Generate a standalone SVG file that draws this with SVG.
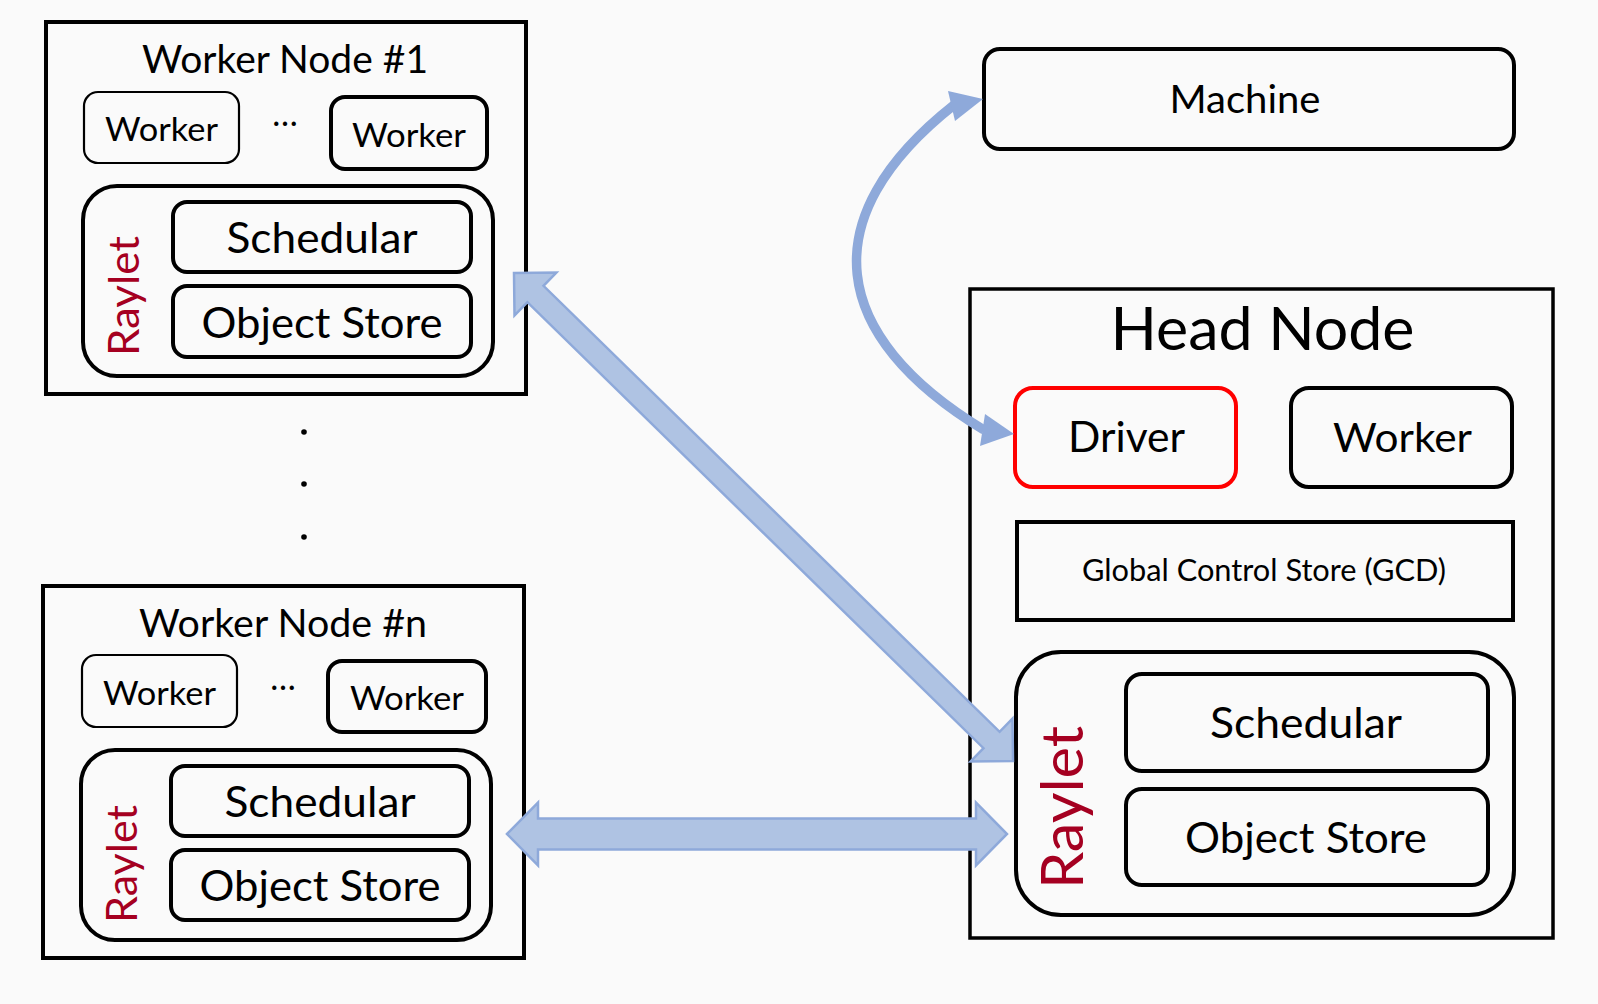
<svg xmlns="http://www.w3.org/2000/svg" width="1598" height="1004" viewBox="0 0 1598 1004">
<style>
  .bg{fill:#FAFAFA}
  .box{fill:none;stroke:#000;stroke-width:4}
  .thin{fill:none;stroke:#000;stroke-width:2.2}
  .red{fill:none;stroke:#FF0000;stroke-width:4}
  text{font-family:Lato,"Open Sans","Liberation Sans",sans-serif;font-weight:400;fill:#000;text-anchor:middle}
  .ray{fill:#A50021}
  .blk{fill:#AFC3E3;stroke:#8EA9DA;stroke-width:2.5;stroke-linejoin:miter}
  .cur{fill:none;stroke:#8EA9DA;stroke-width:9.5}
  .head{fill:#8EA9DA}
</style>
<rect class="bg" x="0" y="0" width="1598" height="1004"/>

<g id="worker-node-1">
  <rect class="box" x="46" y="22" width="480" height="372"/>
  <text x="285" y="73" font-size="38" textLength="286" lengthAdjust="spacingAndGlyphs">Worker Node #1</text>
  <g id="wn1-worker-a">
    <rect class="thin" x="84" y="92" width="155" height="71" rx="14"/>
    <text x="161.5" y="141" font-size="33" textLength="113" lengthAdjust="spacingAndGlyphs">Worker</text>
  </g>
  <text x="285" y="126" font-size="34">…</text>
  <g id="wn1-worker-b">
    <rect class="box" x="331" y="97" width="156" height="72" rx="14"/>
    <text x="409" y="147" font-size="33" textLength="114" lengthAdjust="spacingAndGlyphs">Worker</text>
  </g>
  <g id="wn1-raylet">
    <rect class="box" x="83" y="186" width="410" height="190" rx="34"/>
    <text class="ray" transform="translate(139,296) rotate(-90)" font-size="42" textLength="120" lengthAdjust="spacingAndGlyphs">Raylet</text>
    <g id="wn1-scheduler">
      <rect class="box" x="173" y="202" width="298" height="70" rx="14"/>
      <text x="322" y="253" font-size="43" textLength="191" lengthAdjust="spacingAndGlyphs">Schedular</text>
    </g>
    <g id="wn1-object-store">
      <rect class="box" x="173" y="286" width="298" height="71" rx="14"/>
      <text x="322" y="338" font-size="43" textLength="241" lengthAdjust="spacingAndGlyphs">Object Store</text>
    </g>
  </g>
</g>

<g id="ellipsis-dots">
  <circle cx="304" cy="432" r="2.8" fill="#000"/>
  <circle cx="304" cy="484" r="2.8" fill="#000"/>
  <circle cx="304" cy="537" r="2.8" fill="#000"/>
</g>

<g id="worker-node-n">
  <rect class="box" x="43" y="586" width="481" height="372"/>
  <text x="283" y="637" font-size="38" textLength="288" lengthAdjust="spacingAndGlyphs">Worker Node #n</text>
  <g id="wnn-worker-a">
    <rect class="thin" x="82" y="655" width="155" height="72" rx="14"/>
    <text x="159.5" y="705" font-size="33" textLength="113" lengthAdjust="spacingAndGlyphs">Worker</text>
  </g>
  <text x="283" y="690" font-size="34">…</text>
  <g id="wnn-worker-b">
    <rect class="box" x="328" y="661" width="158" height="71" rx="14"/>
    <text x="407" y="710" font-size="33" textLength="114" lengthAdjust="spacingAndGlyphs">Worker</text>
  </g>
  <g id="wnn-raylet">
    <rect class="box" x="81" y="750" width="410" height="190" rx="34"/>
    <text class="ray" transform="translate(137,864) rotate(-90)" font-size="42" textLength="118" lengthAdjust="spacingAndGlyphs">Raylet</text>
    <g id="wnn-scheduler">
      <rect class="box" x="171" y="766" width="298" height="70" rx="14"/>
      <text x="320" y="817" font-size="43" textLength="191" lengthAdjust="spacingAndGlyphs">Schedular</text>
    </g>
    <g id="wnn-object-store">
      <rect class="box" x="171" y="850" width="298" height="70" rx="14"/>
      <text x="320" y="901" font-size="43" textLength="241" lengthAdjust="spacingAndGlyphs">Object Store</text>
    </g>
  </g>
</g>

<g id="machine">
  <rect class="box" x="984" y="49" width="530" height="100" rx="16"/>
  <text x="1245" y="113" font-size="38" textLength="151" lengthAdjust="spacingAndGlyphs">Machine</text>
</g>

<g id="head-node">
  <rect class="box" x="970" y="289" width="583" height="649" style="stroke-width:3.5"/>
  <text x="1262.5" y="350" font-size="60" textLength="304" lengthAdjust="spacingAndGlyphs">Head Node</text>
  <g id="driver">
    <rect class="red" x="1015" y="388" width="221" height="99" rx="18"/>
    <text x="1126.5" y="452" font-size="42" textLength="117" lengthAdjust="spacingAndGlyphs">Driver</text>
  </g>
  <g id="head-worker">
    <rect class="box" x="1291" y="388" width="221" height="99" rx="18"/>
    <text x="1402.5" y="452" font-size="41" textLength="139" lengthAdjust="spacingAndGlyphs">Worker</text>
  </g>
  <g id="gcs">
    <rect class="box" x="1017" y="522" width="496" height="98"/>
    <text x="1264" y="581" font-size="30" textLength="364" lengthAdjust="spacingAndGlyphs">Global Control Store (GCD)</text>
  </g>
  <g id="head-raylet">
    <rect class="box" x="1016" y="652" width="498" height="263" rx="45"/>
    <text class="ray" transform="translate(1083,807.5) rotate(-90)" font-size="58" textLength="163" lengthAdjust="spacingAndGlyphs">Raylet</text>
    <g id="head-scheduler">
      <rect class="box" x="1126" y="674" width="362" height="97" rx="16"/>
      <text x="1306" y="738" font-size="43" textLength="192" lengthAdjust="spacingAndGlyphs">Schedular</text>
    </g>
    <g id="head-object-store">
      <rect class="box" x="1126" y="789" width="362" height="96" rx="16"/>
      <text x="1306" y="853" font-size="43" textLength="242" lengthAdjust="spacingAndGlyphs">Object Store</text>
    </g>
  </g>
</g>

<g id="connectors">
  <polygon class="blk" points="514,273 556.4,272.5 543.5,285.8 999.6,731.8 1012.5,718.6 1013,761 970.6,761.5 983.5,748.2 527.4,302.2 514.5,315.4"/>
  <polygon class="blk" points="507,834 538,802.5 538,818.5 976,818.5 976,802.5 1007,834 976,865.5 976,849.5 538,849.5 538,865.5"/>
  <path class="cur" d="M954,105 C811,218 829,336 984,430"/>
  <polygon class="head" points="983,99 948,91 955,121"/>
  <polygon class="head" points="1014,434 985,414 980,446"/>
</g>
</svg>
